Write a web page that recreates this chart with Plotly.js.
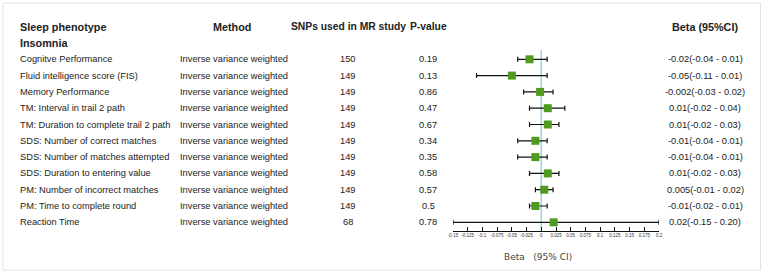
<!DOCTYPE html>
<html>
<head>
<meta charset="utf-8">
<script src="https://cdn.plot.ly/plotly-3.0.1.min.js"></script>
<style>
html,body{margin:0;padding:0;background:#fff;}
#chart{width:764px;height:272px;}
</style>
</head>
<body>
<div id="chart"></div>
<script>
const phenotypes = ["Cognitve Performance","Fluid intelligence score (FIS)","Memory Performance","TM: Interval in trail 2 path","TM: Duration to complete trail 2 path","SDS: Number of correct matches","SDS: Number of matches attempted","SDS: Duration to entering value","PM: Number of incorrect matches","PM: Time to complete round","Reaction Time"];
const methods = Array(11).fill("Inverse variance weighted");
const snps = [150,149,149,149,149,149,149,149,149,149,68];
const pvalues = ["0.19","0.13","0.86","0.47","0.67","0.34","0.35","0.58","0.57","0.5","0.78"];
const beta = [-0.02,-0.05,-0.002,0.011,0.011,-0.01,-0.01,0.011,0.005,-0.01,0.021];
const lower = [-0.04,-0.11,-0.03,-0.02,-0.02,-0.04,-0.04,-0.02,-0.01,-0.02,-0.15];
const upper = [0.01,0.01,0.02,0.04,0.03,0.01,0.01,0.03,0.02,0.01,0.20];
const betaText = ["-0.02(-0.04 - 0.01)","-0.05(-0.11 - 0.01)","-0.002(-0.03 - 0.02)","0.01(-0.02 - 0.04)","0.01(-0.02 - 0.03)","-0.01(-0.04 - 0.01)","-0.01(-0.04 - 0.01)","0.01(-0.02 - 0.03)","0.005(-0.01 - 0.02)","-0.01(-0.02 - 0.01)","0.02(-0.15 - 0.20)"];
const tickVals = [-0.15,-0.125,-0.1,-0.075,-0.05,-0.025,0,0.025,0.05,0.075,0.1,0.125,0.15,0.175,0.2];
const tickText = ["-0.15","-0.125","-0.1","-0.075","-0.05","-0.025","0","0.025","0.05","0.075","0.1","0.125","0.15","0.175","0.2"];
const headers = ["Sleep phenotype","Method","SNPs used in MR study","P-value","Beta (95%CI)"];
const groupLabel = "Insomnia";
const axisTitle = "Beta&nbsp;&nbsp;&nbsp;(95% CI)";

const W = 764, H = 272;
const rows = phenotypes.map((_, i) => i);
const FONT = "Liberation Sans, Arial, sans-serif";
const txtColor = "#222";

const trace = {
  type: "scatter", mode: "markers",
  x: beta, y: rows,
  marker: {symbol: "square", size: 8, color: "#4f9a1f", line: {width: 0}},
  error_x: {type: "data", symmetric: false,
    array: upper.map((u, i) => u - beta[i]),
    arrayminus: lower.map((l, i) => beta[i] - l),
    color: "#111", thickness: 1.2, width: 2.5},
  hoverinfo: "skip", cliponaxis: false
};

const rowPx = 16.3, row0 = 59.3;
const toRow = p => (p - row0) / rowPx;
const axisPx = 230.5;

const px = v => v / W;
const ann = [];
function add(text, xpx, row, anchor, size, bold, color, family) {
  ann.push({text: bold ? "<b>" + text + "</b>" : text, xref: "paper", x: px(xpx), yref: "y", y: row,
    xanchor: anchor, yanchor: "middle", showarrow: false,
    font: {family: family || FONT, size: size, color: color || txtColor}});
}
add(headers[0], 18, -2, "left", 10.8, true);
add(headers[1], 232, -2, "center", 10.8, true);
add(headers[2], 289, -2, "left", 10.3, true);
add(headers[3], 408, -2, "left", 10.3, true);
add(headers[4], 705, -2, "center", 10.8, true);
add(groupLabel, 18, -1, "left", 10.8, true);
rows.forEach(i => {
  add(phenotypes[i], 18, i, "left", 9.3);
  add(methods[i], 178, i, "left", 9.3);
  add(String(snps[i]), 348, i, "center", 9.3);
  add(pvalues[i], 428, i, "center", 9.3);
  add(betaText[i], 705, i, "center", 9.3);
});
add(axisTitle, 538, toRow(257), "center", 9, false, "#444", "DejaVu Sans, sans-serif");

const layout = {
  width: W, height: H,
  margin: {l: 0, r: 0, t: 0, b: 0},
  paper_bgcolor: "#fff", plot_bgcolor: "rgba(0,0,0,0)",
  showlegend: false,
  xaxis: {domain: [453 / W, 659 / W], range: [-0.15, 0.2], anchor: "free", position: 1 - axisPx / H,
    tickvals: tickVals, ticktext: tickText, ticks: "inside", ticklen: 4, tickwidth: 1, tickcolor: "#111",
    showline: true, linecolor: "#111", linewidth: 1, showgrid: false, zeroline: false,
    tickfont: {family: FONT, size: 4.5, color: "#333"}},
  yaxis: {domain: [0, 1], range: [toRow(H), toRow(0)], visible: false, showgrid: false, zeroline: false},
  shapes: [
    {type: "line", xref: "x", x0: 0, x1: 0, yref: "y", y0: toRow(50), y1: toRow(axisPx),
      line: {color: "#9ccfe0", width: 1.5}, layer: "below"},
    {type: "rect", xref: "paper", yref: "paper", x0: 3 / W, x1: 760.5 / W, y0: 1 - 270 / H, y1: 1 - 3 / H,
      line: {color: "#e2e2e2", width: 1}, fillcolor: "rgba(0,0,0,0)", layer: "below"}
  ],
  annotations: ann
};

Plotly.newPlot("chart", [trace], layout, {displayModeBar: false, staticPlot: true});
</script>
</body>
</html>
